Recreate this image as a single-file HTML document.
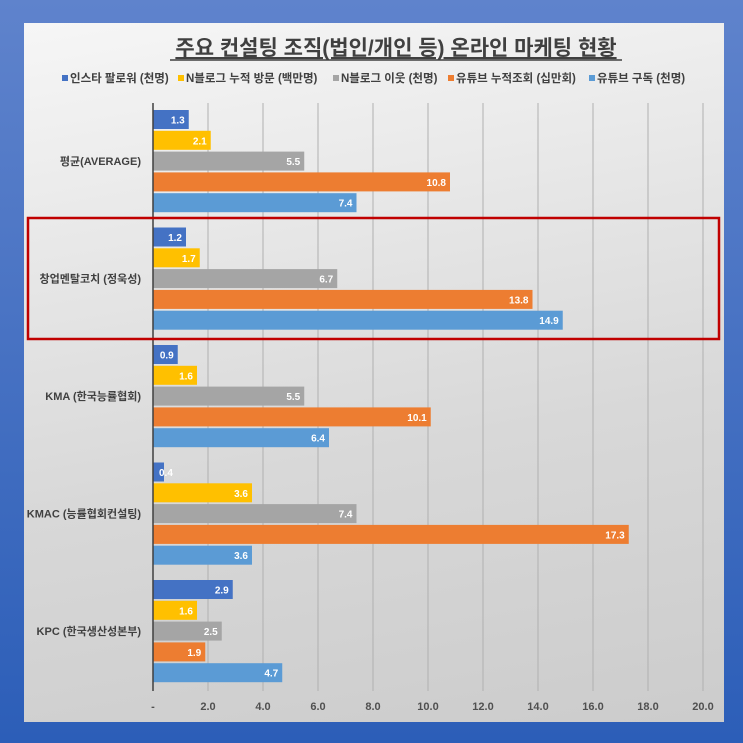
<!DOCTYPE html>
<html><head><meta charset="utf-8"><style>
body{margin:0;width:743px;height:743px;overflow:hidden;background:linear-gradient(#5f83cc,#2c5eb8);font-family:"Liberation Sans","Noto Sans CJK KR",sans-serif;}
#panel{position:absolute;left:24px;top:23px;width:700px;height:699px;background:linear-gradient(170deg,#f6f6f6,#d8d8d8 60%,#cccccc);}
svg{position:absolute;left:0;top:0}
</style></head><body>
<div id="panel"></div>
<svg id="chart" width="743" height="743"></svg>
<script>
const categories=["평균(AVERAGE)","창업멘탈코치 (정욱성)","KMA (한국능률협회)","KMAC (능률협회컨설팅)","KPC (한국생산성본부)"];
const seriesNames=["인스타 팔로워 (천명)","N블로그 누적 방문 (백만명)","N블로그 이웃 (천명)","유튜브 누적조회 (십만회)","유튜브 구독 (천명)"];
const instagram=[1.3,1.2,0.9,0.4,2.9];
const blogVisits=[2.1,1.7,1.6,3.6,1.6];
const blogNeighbors=[5.5,6.7,5.5,7.4,2.5];
const ytViews=[10.8,13.8,10.1,17.3,1.9];
const ytSubs=[7.4,14.9,6.4,3.6,4.7];
const tickValues=[0,2,4,6,8,10,12,14,16,18,20];
const tickLabels=["-","2.0","4.0","6.0","8.0","10.0","12.0","14.0","16.0","18.0","20.0"];
const series=[instagram,blogVisits,blogNeighbors,ytViews,ytSubs];
const colors=["#4472c4","#ffc000","#a5a5a5","#ed7d31","#5b9bd5"];
const NS="http://www.w3.org/2000/svg";
const svg=document.getElementById('chart');
const x0=153,x1=703,xmax=20;
const xs=v=>x0+(v/xmax)*(x1-x0);
const groupTop=i=>110+i*117.5;
const barY=(g,s)=>groupTop(g)+s*20.8;
const barH=19;
function el(t,a,txt){const e=document.createElementNS(NS,t);for(const k in a)e.setAttribute(k,a[k]);if(txt!=null)e.textContent=txt;svg.appendChild(e);return e;}
// title
const t=el('text',{x:396,y:55,'text-anchor':'middle','font-size':21,'font-weight':'bold',fill:'#404040','text-decoration':'underline'},"주요 컨설팅 조직(법인/개인 등) 온라인 마케팅 현황");

el('line',{x1:170,x2:622,y1:60,y2:60,stroke:'#404040','stroke-width':1.5});
// legend
const legX=[62,178,333,448,589];
seriesNames.forEach((n,i)=>{
 const r=el('rect',{x:legX[i],y:75,width:6,height:6,fill:colors[i]});
 
 const tx=el('text',{x:legX[i]+8,y:82,'font-size':11.5,'font-weight':'bold',fill:'#404040'},n);
 
});
// grid
tickValues.forEach((v,i)=>{
 if(v>0){const g=el('line',{x1:xs(v),x2:xs(v),y1:103,y2:691,stroke:'#b0b0b0','stroke-width':1});
 }
 const tl=el('text',{x:xs(v),y:710,'text-anchor':'middle','font-size':11,'font-weight':'bold',fill:'#505050'},tickLabels[i]);
 
});
// bars
categories.forEach((c,g)=>{
 series.forEach((s,si)=>{
  const v=s[g],y=barY(g,si),w=xs(v)-x0;
  const r=el('rect',{x:x0,y:y,width:w,height:barH,fill:colors[si]});
  
  const lbl=v.toFixed(1);
  const inside=w>24;
  const tx=el('text',{x:inside?xs(v)-4:x0+6,y:y+13.5,'text-anchor':inside?'end':'start','font-size':10,'font-weight':'bold',fill:'#ffffff'},lbl);
  
 });
 const cl=el('text',{x:141,y:barY(g,2)+13.5,'text-anchor':'end','font-size':11,'font-weight':'bold',fill:'#404040'},c);
 
});
const ax=el('line',{x1:x0,x2:x0,y1:103,y2:691,stroke:'#404040','stroke-width':1.5});

const hb=el('rect',{x:28,y:218,width:691,height:121,fill:'none',stroke:'#c00000','stroke-width':2.5});

</script>
</body></html>
